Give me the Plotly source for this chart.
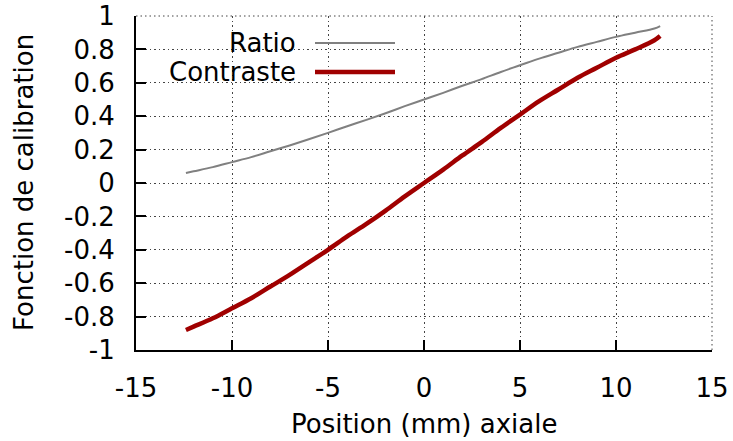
import plotly.graph_objects as go

# position axiale (mm)
pos = [-12.4, -12, -11, -10, -9, -8, -7, -6, -5, -4, -3, -2, -1, 0,
       1, 2, 3, 4, 5, 6, 7, 8, 9, 10, 11, 12, 12.3]
ratio = [0.06, 0.07, 0.095, 0.125, 0.155, 0.19, 0.225, 0.262, 0.30, 0.34,
         0.378, 0.418, 0.46, 0.50, 0.54, 0.582, 0.622, 0.665, 0.705, 0.745,
         0.78, 0.815, 0.845, 0.875, 0.90, 0.925, 0.94]
contraste = [-0.88, -0.86, -0.81, -0.75, -0.69, -0.62, -0.55, -0.475, -0.40,
             -0.32, -0.245, -0.165, -0.08, 0.0, 0.08, 0.165, 0.245, 0.33, 0.41,
             0.49, 0.56, 0.63, 0.69, 0.75, 0.80, 0.855, 0.88]

xticks = [-15, -10, -5, 0, 5, 10, 15]
xtext = ['-15', '-10', '-5', '0', '5', '10', '15']
yticks = [-1, -0.8, -0.6, -0.4, -0.2, 0, 0.2, 0.4, 0.6, 0.8, 1]
ytext = ['-1', '-0.8', '-0.6', '-0.4', '-0.2', '0', '0.2', '0.4', '0.6', '0.8', '1']

GREY = '#808080'
RED = '#a00000'
GRID = '#444444'
DOTS = '1.5px,3px'
FONT = 'DejaVu Sans'
FS = 26

fig = go.Figure()
fig.add_trace(go.Scatter(x=pos, y=ratio, mode='lines', name='Ratio',
                         line={'color': GREY, 'width': 2, 'shape': 'spline'}))
fig.add_trace(go.Scatter(x=pos, y=contraste, mode='lines', name='Contraste',
                         line={'color': RED, 'width': 4.5, 'shape': 'spline'}))

# gnuplot-like key: text right-aligned, sample to the right
key = [('Ratio', GREY, 2, 43), ('Contraste', RED, 4.5, 72)]
for name, color, w, ypx in key:
    yp = 1 - (ypx - 16) / 334.0
    fig.add_annotation(x=(298 - 136) / 576.0, y=yp, xref='paper', yref='paper',
                       text=name, showarrow=False, xanchor='right', yanchor='middle',
                       font={'family': FONT, 'size': FS, 'color': 'black'})
    fig.add_shape(type='line', xref='paper', yref='paper',
                  x0=(315 - 136) / 576.0, x1=(395 - 136) / 576.0, y0=yp, y1=yp,
                  line={'color': color, 'width': w})

# dotted grid along the top and right edges (plotly skips edge gridlines)
fig.add_shape(type='line', xref='paper', yref='paper', x0=0, x1=1, y0=1, y1=1,
              line={'color': GRID, 'width': 1, 'dash': DOTS}, layer='below')
fig.add_shape(type='line', xref='paper', yref='paper', x0=1, x1=1, y0=0, y1=1,
              line={'color': GRID, 'width': 1, 'dash': DOTS}, layer='below')

# axis titles
fig.add_annotation(x=0.5, y=0, xref='paper', yref='paper', yshift=-74,
                   text='Position (mm) axiale', showarrow=False,
                   xanchor='center', yanchor='middle',
                   font={'family': FONT, 'size': FS, 'color': 'black'})
fig.add_annotation(x=0, y=0.5, xref='paper', yref='paper', xshift=-112,
                   text='Fonction de calibration', showarrow=False, textangle=-90,
                   xanchor='center', yanchor='middle',
                   font={'family': FONT, 'size': FS, 'color': 'black'})

axis_common = dict(showline=True, linecolor='black', linewidth=2,
                   ticks='inside', ticklen=10, tickwidth=2, tickcolor='black',
                   showgrid=True, gridcolor=GRID, griddash=DOTS, gridwidth=1,
                   zeroline=False, automargin=False,
                   tickfont={'family': FONT, 'size': FS, 'color': 'black'})

fig.update_xaxes(range=[-15, 15], tickvals=xticks, ticktext=xtext,
                 ticklabelstandoff=14, **axis_common)
fig.update_yaxes(range=[-1, 1], tickvals=yticks, ticktext=ytext,
                 ticklabelstandoff=14, **axis_common)

fig.update_layout(width=733, height=441, showlegend=False,
                  plot_bgcolor='white', paper_bgcolor='white',
                  margin={'l': 136, 'r': 21, 't': 16, 'b': 91})

# drop the default body margin so the figure sits at the window's corner
fig.write_html('out.html', config={'displayModeBar': False},
               post_script="document.body.style.margin='0';")
